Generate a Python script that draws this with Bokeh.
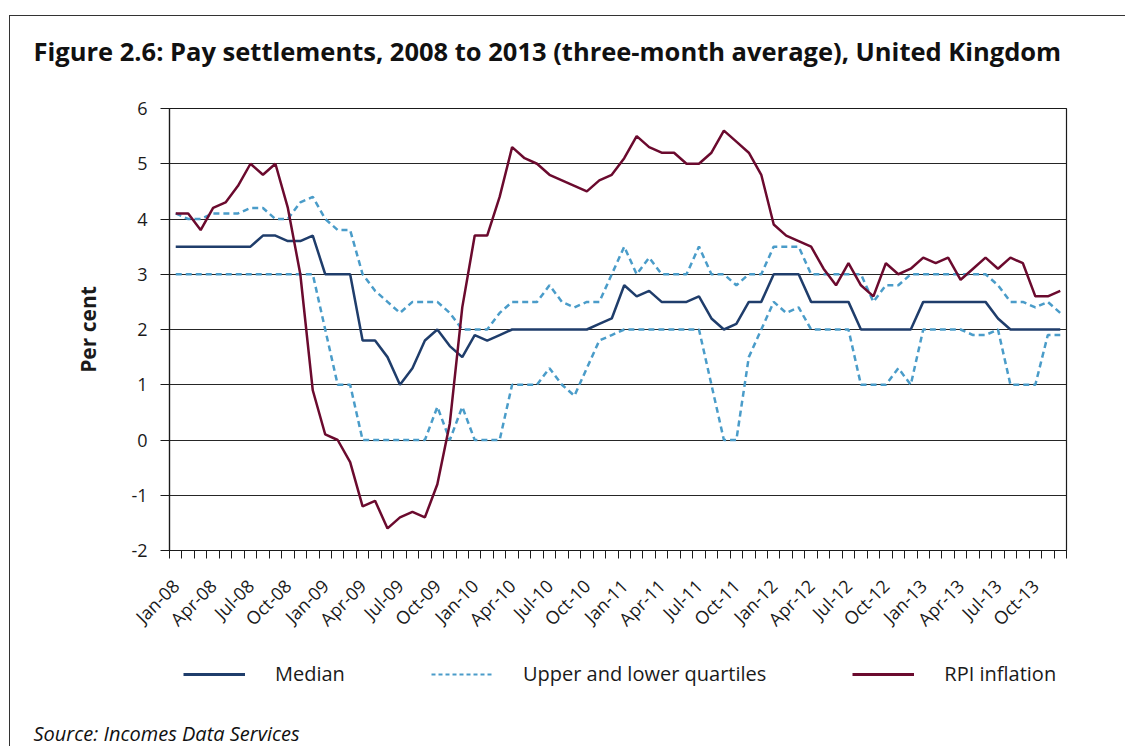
import math
from bokeh.plotting import figure
from bokeh.layouts import column
from bokeh.models import FixedTicker, Legend, LegendItem, Range1d, Title
from bokeh.embed import file_html
from bokeh.resources import INLINE

# ---- data -------------------------------------------------------------
month_names = ["Jan", "Feb", "Mar", "Apr", "May", "Jun",
               "Jul", "Aug", "Sep", "Oct", "Nov", "Dec"]
years = ["08", "09", "10", "11", "12", "13"]
months = [f"{m}-{y}" for y in years for m in month_names]

tick_labels = ["Jan-08", "Apr-08", "Jul-08", "Oct-08",
               "Jan-09", "Apr-09", "Jul-09", "Oct-09",
               "Jan-10", "Apr-10", "Jul-10", "Oct-10",
               "Jan-11", "Apr-11", "Jul-11", "Oct-11",
               "Jan-12", "Apr-12", "Jul-12", "Oct-12",
               "Jan-13", "Apr-13", "Jul-13", "Oct-13"]

median = [3.5, 3.5, 3.5, 3.5, 3.5, 3.5, 3.5, 3.7, 3.7, 3.6, 3.6, 3.7,
          3.0, 3.0, 3.0, 1.8, 1.8, 1.5, 1.0, 1.3, 1.8, 2.0, 1.7, 1.5,
          1.9, 1.8, 1.9, 2.0, 2.0, 2.0, 2.0, 2.0, 2.0, 2.0, 2.1, 2.2,
          2.8, 2.6, 2.7, 2.5, 2.5, 2.5, 2.6, 2.2, 2.0, 2.1, 2.5, 2.5,
          3.0, 3.0, 3.0, 2.5, 2.5, 2.5, 2.5, 2.0, 2.0, 2.0, 2.0, 2.0,
          2.5, 2.5, 2.5, 2.5, 2.5, 2.5, 2.2, 2.0, 2.0, 2.0, 2.0, 2.0]

upper_quartile = [4.1, 4.0, 4.0, 4.1, 4.1, 4.1, 4.2, 4.2, 4.0, 4.0, 4.3, 4.4,
                  4.0, 3.8, 3.8, 3.0, 2.7, 2.5, 2.3, 2.5, 2.5, 2.5, 2.3, 2.0,
                  2.0, 2.0, 2.3, 2.5, 2.5, 2.5, 2.8, 2.5, 2.4, 2.5, 2.5, 3.0,
                  3.5, 3.0, 3.3, 3.0, 3.0, 3.0, 3.5, 3.0, 3.0, 2.8, 3.0, 3.0,
                  3.5, 3.5, 3.5, 3.0, 3.0, 3.0, 3.0, 3.0, 2.5, 2.8, 2.8, 3.0,
                  3.0, 3.0, 3.0, 3.0, 3.0, 3.0, 2.8, 2.5, 2.5, 2.4, 2.5, 2.3]

lower_quartile = [3.0, 3.0, 3.0, 3.0, 3.0, 3.0, 3.0, 3.0, 3.0, 3.0, 3.0, 3.0,
                  2.0, 1.0, 1.0, 0.0, 0.0, 0.0, 0.0, 0.0, 0.0, 0.6, 0.0, 0.6,
                  0.0, 0.0, 0.0, 1.0, 1.0, 1.0, 1.3, 1.0, 0.8, 1.3, 1.8, 1.9,
                  2.0, 2.0, 2.0, 2.0, 2.0, 2.0, 2.0, 1.0, 0.0, 0.0, 1.5, 2.0,
                  2.5, 2.3, 2.4, 2.0, 2.0, 2.0, 2.0, 1.0, 1.0, 1.0, 1.3, 1.0,
                  2.0, 2.0, 2.0, 2.0, 1.9, 1.9, 2.0, 1.0, 1.0, 1.0, 1.9, 1.9]

rpi_inflation = [4.1, 4.1, 3.8, 4.2, 4.3, 4.6, 5.0, 4.8, 5.0, 4.2, 3.0, 0.9,
                 0.1, 0.0, -0.4, -1.2, -1.1, -1.6, -1.4, -1.3, -1.4, -0.8, 0.3, 2.4,
                 3.7, 3.7, 4.4, 5.3, 5.1, 5.0, 4.8, 4.7, 4.6, 4.5, 4.7, 4.8,
                 5.1, 5.5, 5.3, 5.2, 5.2, 5.0, 5.0, 5.2, 5.6, 5.4, 5.2, 4.8,
                 3.9, 3.7, 3.6, 3.5, 3.1, 2.8, 3.2, 2.8, 2.6, 3.2, 3.0, 3.1,
                 3.3, 3.2, 3.3, 2.9, 3.1, 3.3, 3.1, 3.3, 3.2, 2.6, 2.6, 2.7]

y_ticks = [-2, -1, 0, 1, 2, 3, 4, 5, 6]

# ---- styles -----------------------------------------------------------
FONT = "Open Sans"
TXT = "#1a1a1a"
MED_COLOR = "#1f3d6b"
Q_COLOR = "#4a9cc9"
RPI_COLOR = "#6b0a2e"

idx = list(range(len(months)))
label_pos = [i for i, m in enumerate(months) if m in tick_labels]

# ---- main chart -------------------------------------------------------
p = figure(width=1115, height=630,
           x_range=Range1d(-0.5, len(months) - 0.5), y_range=Range1d(-2, 6),
           output_backend="svg", toolbar_location=None,
           min_border_left=159, min_border_right=59,
           min_border_top=92, min_border_bottom=96)
p.title = None
p.background_fill_color = "white"
p.border_fill_color = "white"
p.outline_line_color = "#1a1a1a"
p.outline_line_width = 1.2

p.xgrid.visible = False
p.ygrid.ticker = FixedTicker(ticks=y_ticks)
p.ygrid.grid_line_color = "#262626"
p.ygrid.grid_line_width = 1.2

yax = p.yaxis[0]
yax.ticker = FixedTicker(ticks=y_ticks)
yax.major_label_overrides = {t: str(t) for t in y_ticks}
yax.axis_line_color = "#1a1a1a"
yax.axis_line_width = 1.2
yax.major_tick_line_color = "#1a1a1a"
yax.major_tick_out = 9
yax.major_tick_in = 0
yax.minor_tick_out = 0
yax.minor_tick_in = 0
yax.major_label_standoff = 13
yax.major_label_text_font = FONT
yax.major_label_text_font_size = "18px"
yax.major_label_text_color = TXT
yax.axis_label = "Per cent"
yax.axis_label_text_font = FONT
yax.axis_label_text_font_size = "21px"
yax.axis_label_text_font_style = "bold"
yax.axis_label_text_color = TXT
yax.axis_label_standoff = 26

xax = p.xaxis[0]
xax.ticker = FixedTicker(ticks=label_pos,
                         minor_ticks=[i - 0.5 for i in range(len(months) + 1)])
xax.major_label_overrides = {i: months[i] for i in label_pos}
xax.axis_line_color = "#1a1a1a"
xax.axis_line_width = 1.2
xax.major_tick_out = 0
xax.major_tick_in = 0
xax.minor_tick_out = 8
xax.minor_tick_in = 0
xax.minor_tick_line_color = "#1a1a1a"
xax.major_label_orientation = math.pi / 4
xax.major_label_standoff = 24
xax.major_label_text_font = FONT
xax.major_label_text_font_size = "18px"
xax.major_label_text_color = TXT

p.line(idx, upper_quartile, line_color=Q_COLOR, line_width=2.5, line_dash="6 4")
p.line(idx, lower_quartile, line_color=Q_COLOR, line_width=2.5, line_dash="6 4")
p.line(idx, median, line_color=MED_COLOR, line_width=2.5)
p.line(idx, rpi_inflation, line_color=RPI_COLOR, line_width=2.5)

# blank spacer panel next to the frame, then the figure title above it
p.add_layout(Title(text=" ", standoff=10, text_font=FONT, text_font_size="10px"), "above")
p.add_layout(Title(text="Figure 2.6: Pay settlements, 2008 to 2013 (three-month average), United Kingdom",
                   align="left", offset=-136, standoff=30,
                   text_font=FONT, text_font_size="25.5px", text_font_style="bold",
                   text_color="#111111"), "above")

# ---- legend + source strip -------------------------------------------
q = figure(width=1115, height=100, x_range=Range1d(0, 1), y_range=Range1d(0, 1),
           x_axis_type=None, y_axis_type=None,
           output_backend="svg", toolbar_location=None,
           min_border=0, min_border_left=0, min_border_right=0,
           min_border_top=0, min_border_bottom=0)
q.title = None
q.grid.visible = False
q.outline_line_color = None
q.background_fill_color = "white"
q.border_fill_color = "white"

# single-point proxies: they draw nothing themselves, only the legend keys
k_med = q.line([0], [0], line_color=MED_COLOR, line_width=3)
k_q = q.line([0], [0], line_color=Q_COLOR, line_width=2, line_dash="4 3")
k_rpi = q.line([0], [0], line_color=RPI_COLOR, line_width=3)

legend = Legend(items=[LegendItem(label="Median", renderers=[k_med]),
                       LegendItem(label="Upper and lower quartiles", renderers=[k_q]),
                       LegendItem(label="RPI inflation", renderers=[k_rpi])],
                orientation="horizontal", location="top_left",
                glyph_width=62, glyph_height=24, label_height=24,
                label_standoff=30, spacing=86, padding=0, margin=14,
                border_line_color=None, background_fill_alpha=0,
                label_text_font=FONT, label_text_font_size="20px",
                label_text_color=TXT)
q.add_layout(legend)

q.add_layout(Title(text="Source: Incomes Data Services",
                   align="left", offset=-136, standoff=0,
                   text_font=FONT, text_font_size="20px", text_font_style="italic",
                   text_color="#111111"), "below")

layout = column(p, q, spacing=0)
layout.styles = {"margin-left": "9px", "margin-top": "15px",
                 "border-left": "1px solid #333333", "border-top": "1px solid #333333"}

open("out.html", "w").write(file_html(layout, INLINE))
